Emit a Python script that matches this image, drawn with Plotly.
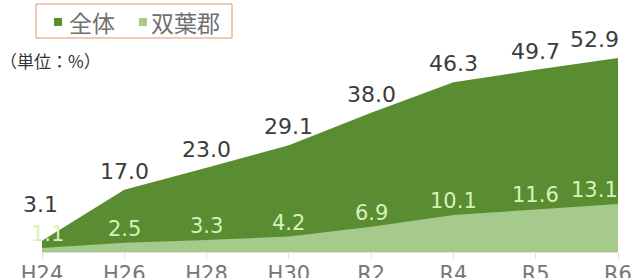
import plotly.graph_objects as go

categories = ["H24", "H26", "H28", "H30", "R2", "R4", "R5", "R6"]
overall = [3.1, 17.0, 23.0, 29.1, 38.0, 46.3, 49.7, 52.9]
futaba = [1.1, 2.5, 3.3, 4.2, 6.9, 10.1, 11.6, 13.1]
series_names = ["全体", "双葉郡"]

dark = "#5a8c32"
light = "#a6c98c"

W, H = 634, 278
ML, MR, MT, MB = 42, 16, 32, 26
PW, PH = W - ML - MR, H - MT - MB


def px(xp):
    return (xp - ML) / PW


def py(yp):
    return (H - MB - yp) / PH


x = list(range(len(categories)))

fig = go.Figure()
fig.add_trace(go.Scatter(
    x=x, y=overall, mode="lines", line=dict(width=0, color=dark),
    fill="tozeroy", fillcolor=dark, showlegend=False, hoverinfo="skip"))
fig.add_trace(go.Scatter(
    x=x, y=futaba, mode="lines", line=dict(width=0, color=light),
    fill="tozeroy", fillcolor=light, showlegend=False, hoverinfo="skip"))

annotations = []
n = len(categories)
for i in range(n):
    xs = 0
    ys = 4
    if i == 0:
        xs = -2
        ys = 22
    if i == n - 1:
        xs = -24
    annotations.append(dict(
        x=x[i], y=overall[i], xref="x", yref="y", text=f"{overall[i]:.1f}",
        showarrow=False, xanchor="center", yanchor="bottom", xshift=xs, yshift=ys,
        font=dict(family="DejaVu Sans", size=22, color="#3c3c3c")))
for i in range(n):
    xs = 0
    ys = 0
    if i == 0:
        xs = 5
    if i == n - 1:
        xs = -24
    annotations.append(dict(
        x=x[i], y=futaba[i], xref="x", yref="y", text=f"{futaba[i]:.1f}",
        showarrow=False, xanchor="center", yanchor="bottom", xshift=xs, yshift=ys,
        font=dict(family="DejaVu Sans", size=21, color="#d6f2bc")))

# legend (drawn manually)
shapes = [
    dict(type="rect", xref="paper", yref="paper", x0=px(36), x1=px(232), y0=py(38), y1=py(4),
         line=dict(color="#e8906c", width=1), fillcolor="white", layer="above"),
    dict(type="rect", xref="paper", yref="paper", x0=px(54), x1=px(62), y0=py(26), y1=py(18),
         line=dict(width=0), fillcolor=dark, layer="above"),
    dict(type="rect", xref="paper", yref="paper", x0=px(139), x1=px(147), y0=py(26), y1=py(18),
         line=dict(width=0), fillcolor=light, layer="above"),
]
annotations.append(dict(
    xref="paper", yref="paper", x=px(67), y=py(22), xanchor="left", yanchor="middle",
    text=series_names[0], showarrow=False,
    font=dict(family="Noto Sans CJK JP", size=23, color="#707070")))
annotations.append(dict(
    xref="paper", yref="paper", x=px(149), y=py(22), xanchor="left", yanchor="middle",
    text=series_names[1], showarrow=False,
    font=dict(family="Noto Sans CJK JP", size=23, color="#707070")))
annotations.append(dict(
    xref="paper", yref="paper", x=px(-2), y=py(60), xanchor="left", yanchor="middle",
    text="（単位：%）", showarrow=False,
    font=dict(family="Noto Sans CJK JP", size=17, color="#333333")))

fig.update_layout(
    width=W, height=H,
    margin=dict(l=ML, r=MR, t=MT, b=MB, autoexpand=False),
    paper_bgcolor="white", plot_bgcolor="white",
    xaxis=dict(range=[0, 7], tickmode="array", tickvals=x, ticktext=categories,
               showgrid=False, zeroline=False, showline=True, linecolor="#dddddd",
               ticks="outside", ticklen=6, tickcolor="#dddddd", ticklabelstandoff=-3,
               automargin=False,
               tickfont=dict(family="DejaVu Sans", size=21, color="#777777")),
    yaxis=dict(range=[0, 60], visible=False, automargin=False),
    annotations=annotations,
    shapes=shapes,
)

fig.write_html("out.html", config={"displayModeBar": False},
               post_script="document.body.style.margin='0';document.body.style.overflow='hidden';")
